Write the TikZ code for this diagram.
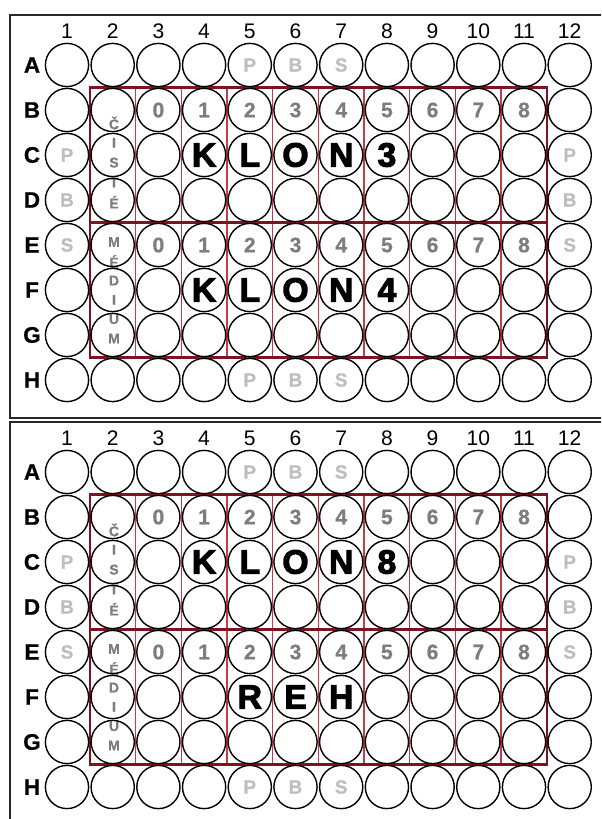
\documentclass[tikz,border=0pt]{standalone}
\usepackage{fontspec}
\setmainfont{Liberation Sans}
\newfontfamily\boldfont{Liberation Sans Bold}[FakeBold=0.8]
\newfontfamily\heavyfont{Liberation Sans Bold}[FakeBold=3]
\usepackage{xcolor}
\definecolor{boxred}{RGB}{125,18,32}
\definecolor{linered}{RGB}{196,60,72}
\definecolor{numgray}{RGB}{125,125,125}
\definecolor{ctrlgray}{RGB}{190,190,190}
\definecolor{framegray}{RGB}{40,40,40}

% one 96-well plate, #1 = name prefix, #2 = vertical offset (px)
\newcommand{\wellplate}[2]{%
  \begin{scope}[shift={(0,#2)}]
    \draw[framegray, line width=1.1pt] (610,418) -- (10,418) -- (10,15) -- (610,15);
    % red sample area
    \foreach \c in {2,...,10}
      \draw[linered, line width=1pt] ({67+(\c-0.5)*45.7},87.5) -- ({67+(\c-0.5)*45.7},357.5);
    \draw[boxred, line width=1.6pt] (89.85,87.5) rectangle (546.85,357.5);
    \draw[boxred, line width=1.6pt] (89.85,222.5) -- (546.85,222.5);
    % vertical texts under the wells
    \foreach \l [count=\i] in {Č,I,S,T,É}
      \node[vert] (#1-cis\i) at (114,{123+(\i-1)*19.8}) {\l};
    \foreach \l [count=\i] in {M,É,D,I,U,M}
      \node[vert] (#1-med\i) at (114,{242+(\i-1)*19.3}) {\l};
    % wells and labels
    \foreach \c in {1,...,12}
      \node[collabel] (#1-col\c) at ({67+(\c-1)*45.7},31) {\c};
    \foreach \r/\rl in {1/A,2/B,3/C,4/D,5/E,6/F,7/G,8/H} {
      \node[rowlabel] (#1-row\rl) at (32,{65+(\r-1)*45}) {\rl};
      \foreach \c in {1,...,12}
        \node[well] (#1-\rl\c) at ({67+(\c-1)*45.7},{65+(\r-1)*45}) {};
    }
    \foreach \c in {3,...,11} {
      \pgfmathtruncatemacro{\n}{\c-3}
      \node[num] (#1-nB\c) at (#1-B\c) {\n};
      \node[num] (#1-nE\c) at (#1-E\c) {\n};
    }
    % controls
    \foreach \w/\t in {A5/P,A6/B,A7/S,H5/P,H6/B,H7/S,C1/P,D1/B,E1/S,C12/P,D12/B,E12/S}
      \node[ctrl] (#1-k\w) at (#1-\w) {\t};
  \end{scope}}

\begin{document}
\begin{tikzpicture}[x=0.025cm, y=-0.025cm,
  well/.style={circle, draw=black, line width=1pt, minimum size=1.08cm, inner sep=0pt},
  clone/.style={font=\heavyfont\fontsize{24}{24}\selectfont},
  num/.style={text=numgray, font=\boldfont\fontsize{15}{15}\selectfont},
  ctrl/.style={text=ctrlgray, font=\boldfont\fontsize{13.5}{13.5}\selectfont},
  vert/.style={text=numgray, font=\boldfont\fontsize{10}{10}\selectfont, inner sep=0pt},
  collabel/.style={font=\fontsize{15}{15}\selectfont},
  rowlabel/.style={font=\boldfont\fontsize{16}{16}\selectfont}]
  \useasboundingbox (0,0) rectangle (601,819);
  \clip (0,0) rectangle (601,819);

  \wellplate{p1}{0}
  \foreach \w/\t in {C4/K,C5/L,C6/O,C7/N,C8/3,F4/K,F5/L,F6/O,F7/N,F8/4}
    \node[clone] (p1-x\w) at (p1-\w) {\t};

  \wellplate{p2}{407}
  \foreach \w/\t in {C4/K,C5/L,C6/O,C7/N,C8/8,F5/R,F6/E,F7/H}
    \node[clone] (p2-x\w) at (p2-\w) {\t};
\end{tikzpicture}
\end{document}
